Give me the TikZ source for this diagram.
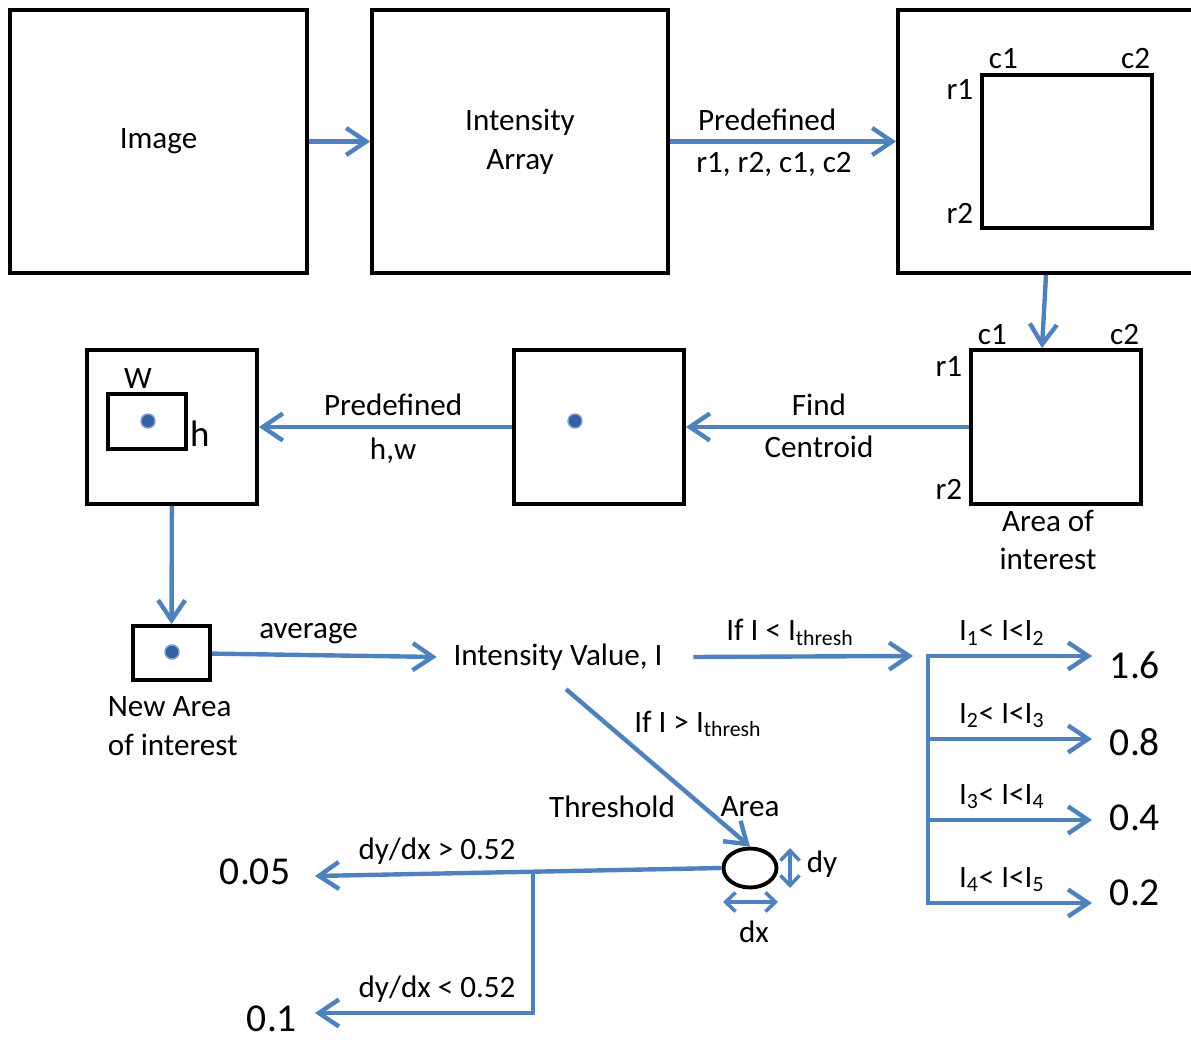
\documentclass[tikz,border=0pt]{standalone}
\usepackage{fontspec}
\setmainfont{Carlito}
\usetikzlibrary{shapes.geometric, arrows.meta, positioning, calc}
\definecolor{flblue}{RGB}{79,129,189}
\definecolor{dotblue}{RGB}{52,96,160}
\definecolor{dotring}{RGB}{120,158,210}
\newcommand\labfont{\fontsize{17.7}{22}\selectfont}
\newcommand\valfont{\fontsize{22.5}{27}\selectfont}
\newcommand\hfont{\fontsize{21}{25}\selectfont}
\tikzset{
  box/.style   = {rectangle, draw=black, line width=2.2pt, inner sep=0pt,
                  align=center, font=\labfont},
  ovl/.style   = {ellipse, draw=black, line width=2.2pt, inner sep=0pt,
                  minimum width=1.06cm, minimum height=0.78cm},
  lab/.style   = {font=\labfont, text=black, inner sep=2pt},
  val/.style   = {font=\valfont, text=black, inner sep=2pt},
  dot/.style   = {circle, fill=dotblue, draw=dotring, line width=0.8pt,
                  inner sep=0pt, minimum size=0.28cm},
  flow/.style  = {-{Straight Barb[length=4mm, width=5.4mm]}, line width=2.5pt, draw=flblue},
  bline/.style = {line width=2.5pt, draw=flblue, line cap=rect},
  dim/.style   = {{Straight Barb[length=2mm, width=3.8mm]}-{Straight Barb[length=2mm, width=3.8mm]},
                  line width=2pt, draw=flblue},
}

\begin{document}
\begin{tikzpicture}[x=0.02cm, y=-0.02cm]
  \useasboundingbox (0,0) rectangle (1191,1040);
  % top row
  \node[box, minimum width=5.94cm, minimum height=5.26cm] (img) at (158.5,141.5) {Image};
  \node[box, minimum width=5.92cm, minimum height=5.26cm] (arr) at (520,141.5) {Intensity\\Array};
  \node[box, minimum width=5.96cm, minimum height=5.26cm] (roi) at (1047,141.5) {};
  \node[box, minimum width=3.4cm, minimum height=3.06cm] (roiin) at (1067,151.5) {};
  \node[lab, anchor=south west, xshift=0.1cm] (rc1) at (roiin.north west) {c1};
  \node[lab, anchor=south east] (rc2) at (roiin.north east) {c2};
  \node[lab, anchor=north east, xshift=-0.06cm, yshift=-0.06cm] (rr1) at (roiin.north west) {r1};
  \node[lab, anchor=south east, xshift=-0.06cm, yshift=0.06cm] (rr2) at (roiin.south west) {r2};
  \draw[flow] (img) -- (arr);
  \draw[flow] (arr) -- node[lab, above=3pt, pos=0.43]{Predefined} node[lab, below=3pt, pos=0.46]{r1, r2, c1, c2} (roi);

  % middle row
  \node[box, minimum width=3.4cm, minimum height=3.08cm] (aoi) at (1056,427) {};
  \node[lab, anchor=south west, xshift=0.1cm] (ac1) at (aoi.north west) {c1};
  \node[lab, anchor=south east] (ac2) at (aoi.north east) {c2};
  \node[lab, anchor=north east, xshift=-0.06cm, yshift=-0.1cm] (ar1) at (aoi.north west) {r1};
  \node[lab, anchor=south east, xshift=-0.06cm, yshift=0.06cm] (ar2) at (aoi.south west) {r2};
  \node[lab, align=center, below=0pt of aoi, xshift=-0.16cm] (aoilab) {Area of\\interest};
  \node[box, minimum width=3.4cm, minimum height=3.08cm] (cen) at (599,427) {};
  \node[dot] (cdot) at (575,421) {};
  \node[box, minimum width=3.4cm, minimum height=3.08cm] (hw) at (172,427) {};
  \node[box, minimum width=1.56cm, minimum height=1.1cm] (hwin) at (147,421.5) {};
  \node[dot] (hdot) at (148,421) {};
  \node[lab, above=0pt of hwin, xshift=-0.18cm] (wlab) {W};
  \node[font=\hfont, anchor=south west, inner sep=1pt, yshift=0.04cm] (hlab) at (hwin.south east) {h};
  \draw[flow] ([xshift=-0.02cm]roi.south) -- ([xshift=-0.28cm]aoi.north);
  \draw[flow] (aoi) -- node[lab, above=3pt, pos=0.53]{Find} node[lab, below=2pt, pos=0.53]{Centroid} (cen);
  \draw[flow] (cen) -- node[lab, above=3pt, pos=0.47]{Predefined} node[lab, below=3pt, pos=0.47]{h,w} (hw);

  % bottom part
  \node[box, minimum width=1.54cm, minimum height=1.08cm] (nai) at (171.5,653) {};
  \node[dot] (ndot) at (172,652) {};
  \node[lab, align=left, anchor=north west] (nailab) at (104,693) {New Area\\of interest};
  \draw[flow] (hw) -- (nai);
  \node[lab] (ival) at (558,657) {Intensity Value, I};
  \draw[flow] (nai) -- node[lab, above=3pt, pos=0.43]{average} ([xshift=-0.26cm]ival.west);
  \coordinate (split) at (928,656);
  \draw[flow] ([xshift=0.54cm]ival.east) -- node[lab, above=3pt, pos=0.44]{If I < I\textsubscript{thresh}} ([xshift=-0.3cm]split);
  \foreach \i/\y/\vy/\v/\a/\b in {1/656/665/1.6/1/2, 2/739/742/0.8/2/3, 3/820/818/0.4/3/4, 4/903/893/0.2/4/5}{
    \coordinate (s\i) at (928,\y);
    \coordinate (t\i) at (1092,\y);
    \node[val] (v\i) at (1135,\vy) {\v};
    \draw[flow] (s\i) -- node[lab, above=3pt, pos=0.45]{I\textsubscript{\a}< I<I\textsubscript{\b}} (t\i);
  }
  \draw[bline] (s1) -- (s4);

  % threshold area
  \node[ovl] (ell) at (750,868) {};
  \node[lab] (thr) at (612,807) {Threshold};
  \node[lab] (area) at (750,807) {Area};
  \draw[flow] ([xshift=0.16cm, yshift=-0.3cm]ival.south) -- node[lab, pos=0.34, anchor=south west]{If I > I\textsubscript{thresh}} (ell.north);
  \coordinate (dyt) at (790,848);
  \coordinate (dyb) at (790,888);
  \draw[dim] (dyt) -- (dyb);
  \node[lab, anchor=west] (dylab) at (803,864) {dy};
  \coordinate (dxl) at (723,902);
  \coordinate (dxr) at (778,902);
  \draw[dim] (dxl) -- (dxr);
  \node[lab] (dxlab) at (754,932) {dx};
  \node[val] (v005) at (255,872) {0.05};
  \node[val] (v01) at (272,1019) {0.1};
  \coordinate (e005) at (315,876);
  \coordinate (e01) at (315,1013);
  \coordinate (j) at (533,873);
  \draw[flow] (ell.west) -- node[lab, above=2pt, pos=0.7]{dy/dx > 0.52} (e005);
  \draw[flow] (j) |- node[lab, above=3pt, pos=0.72]{dy/dx < 0.52} (e01);
\end{tikzpicture}
\end{document}
